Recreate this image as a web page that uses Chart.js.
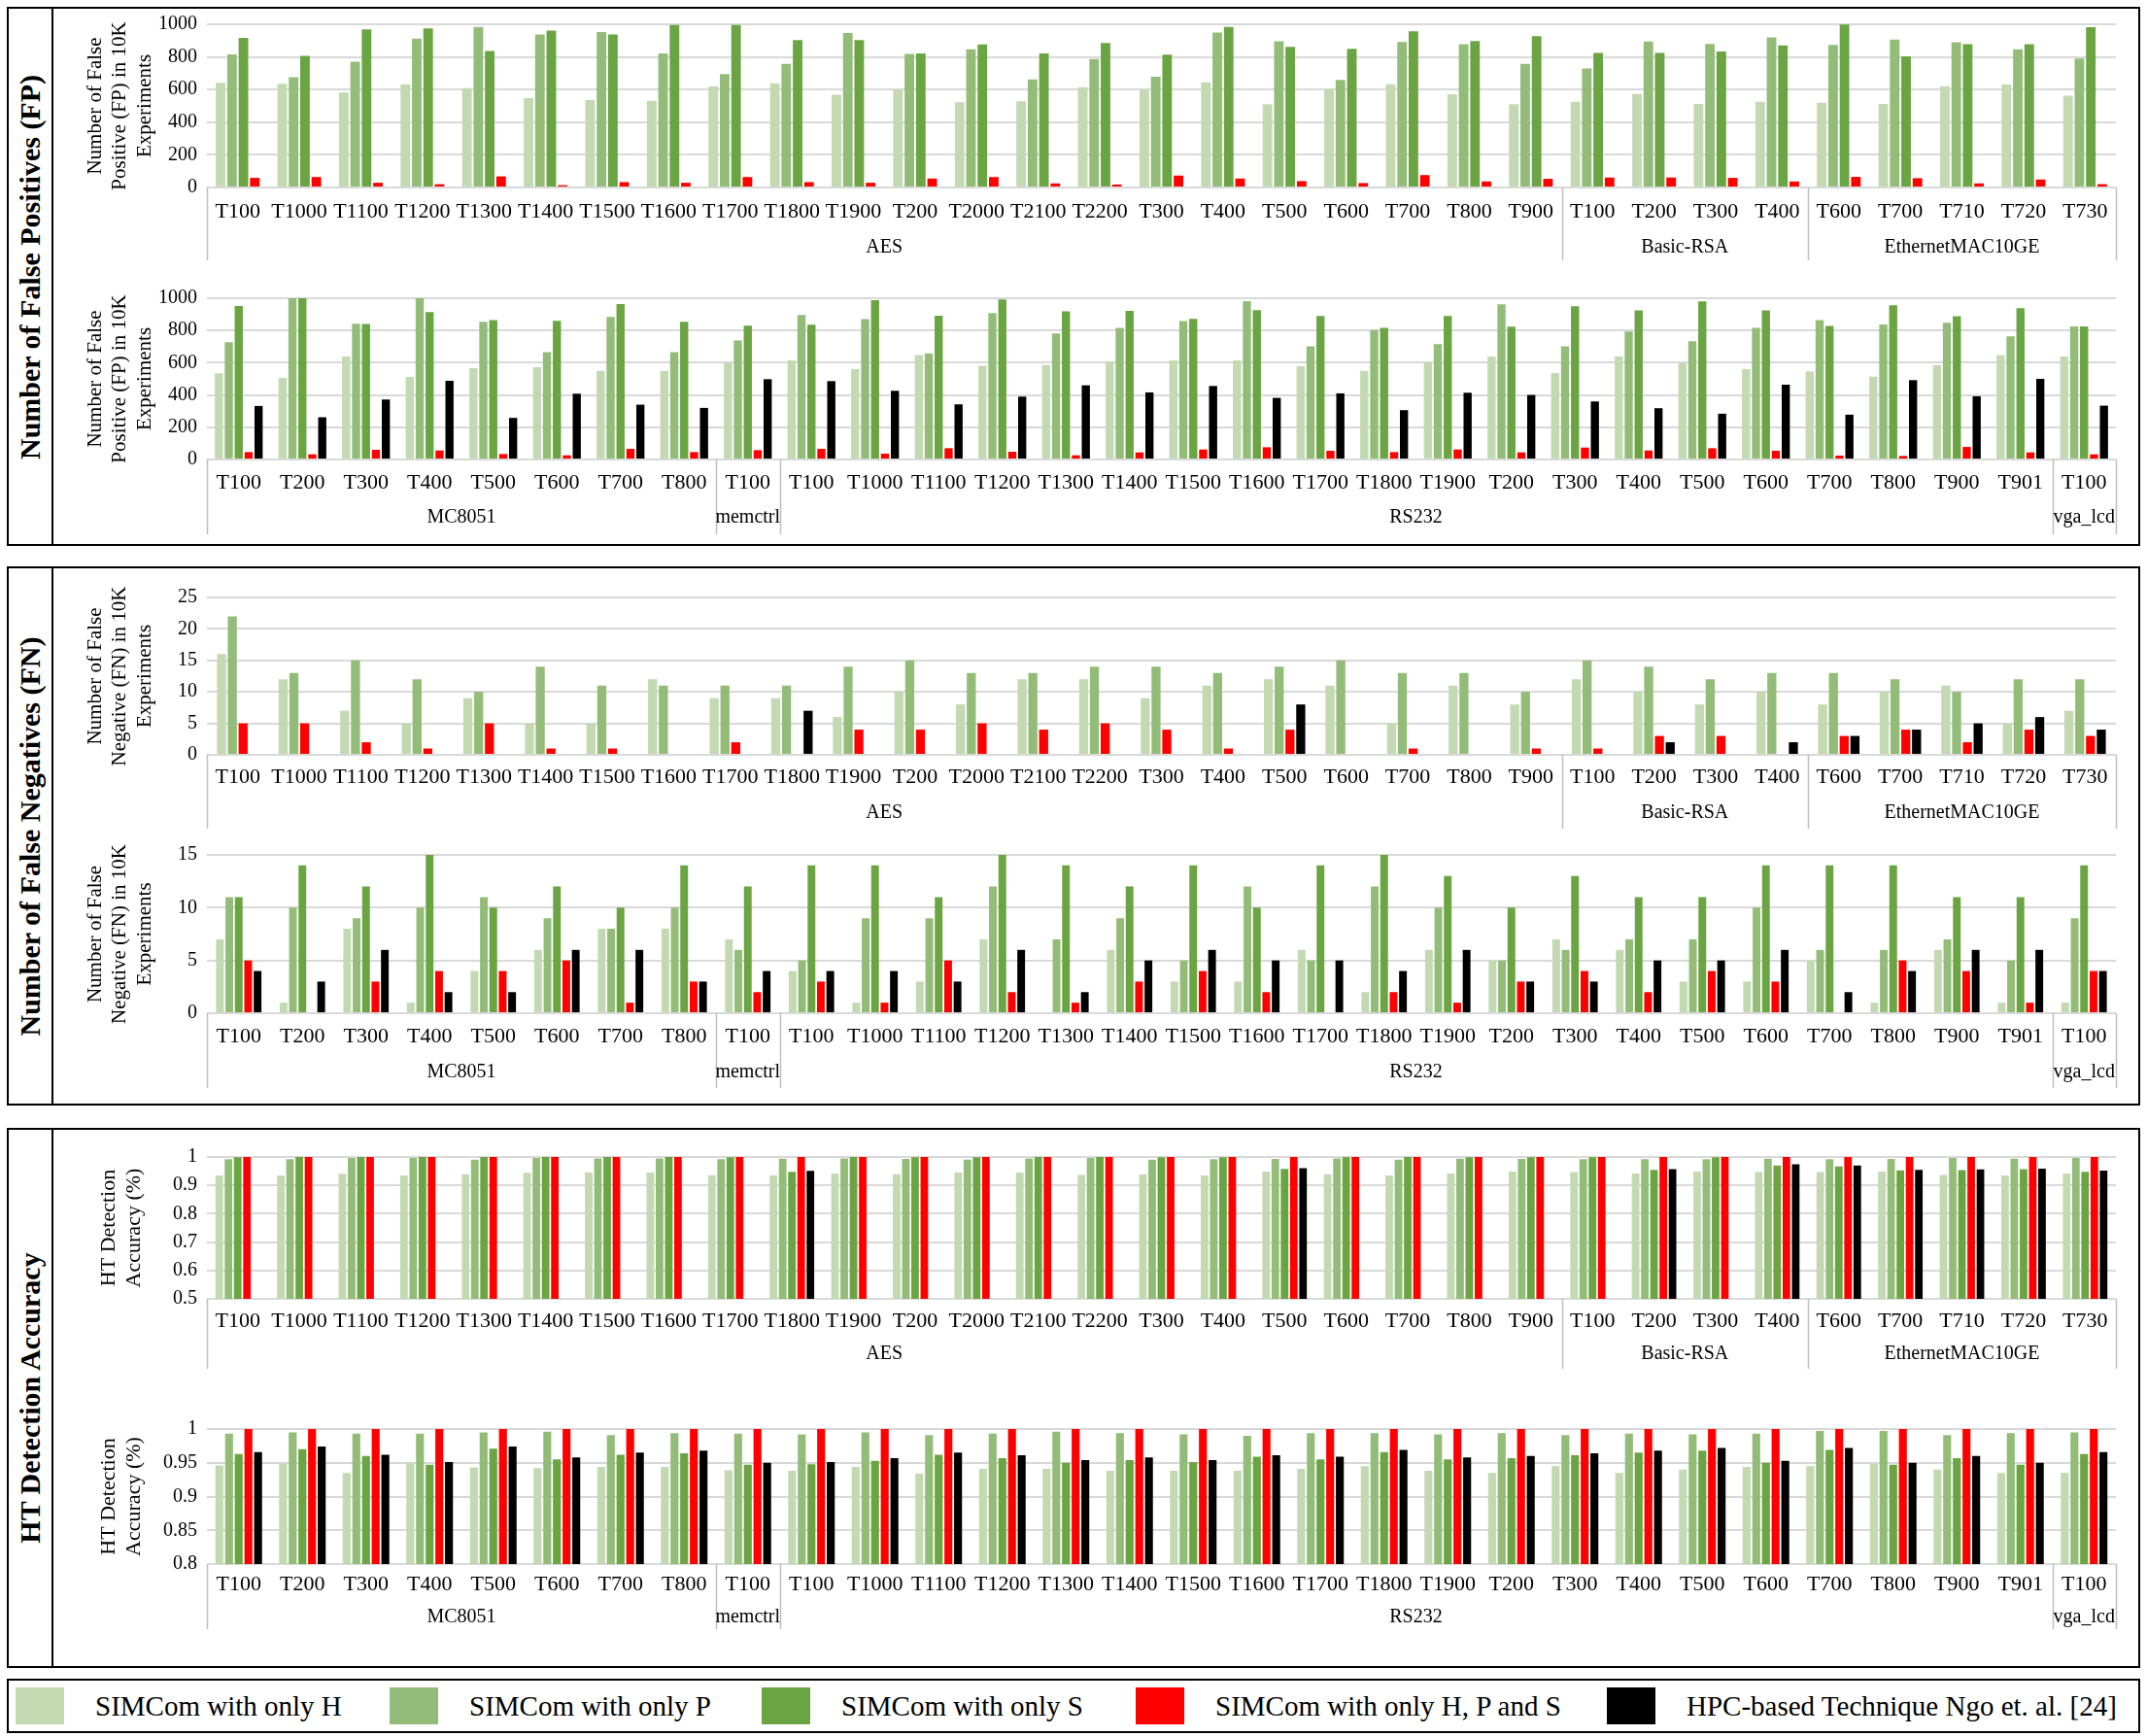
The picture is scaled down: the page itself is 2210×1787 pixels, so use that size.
<!DOCTYPE html>
<html><head><meta charset="utf-8">
<script src="https://cdn.jsdelivr.net/npm/chart.js@4.4.1/dist/chart.umd.min.js"></script>
<style>
html,body{margin:0;padding:0;background:#fff;}
#root{position:relative;width:2210px;height:1787px;background:#fff;overflow:hidden;font-family:"Liberation Serif","Times New Roman",serif;}
.panel{position:absolute;border:2px solid #000;box-sizing:border-box;}
.vdiv{position:absolute;width:2px;background:#000;}
.ptitle{position:absolute;transform:translate(-50%,-50%) rotate(-90deg);white-space:nowrap;font-weight:bold;font-size:30px;color:#000;}
canvas{position:absolute;}
.leg{position:absolute;top:1728px;left:7px;width:2196px;height:56px;border:2px solid #000;box-sizing:border-box;}
.sw{position:absolute;top:7px;height:38px;}
.lt{position:absolute;top:4px;font-size:29px;line-height:44px;color:#000;white-space:nowrap;}
</style></head>
<body><div id="root">
<div class="panel" style="left:7px;top:7px;width:2196px;height:555px;"></div>
<div class="panel" style="left:7px;top:583px;width:2196px;height:555px;"></div>
<div class="panel" style="left:7px;top:1161px;width:2196px;height:556px;"></div>
<div class="vdiv" style="left:53px;top:7px;height:555px;"></div>
<div class="vdiv" style="left:53px;top:583px;height:555px;"></div>
<div class="vdiv" style="left:53px;top:1161px;height:556px;"></div>
<div class="ptitle" style="left:31px;top:275px;">Number of False Positives (FP)</div>
<div class="ptitle" style="left:31px;top:861px;">Number of False Negatives (FN)</div>
<div class="ptitle" style="left:31px;top:1439px;">HT Detection Accuracy</div>
<canvas id="c1"></canvas><canvas id="c2"></canvas><canvas id="c3"></canvas>
<canvas id="c4"></canvas><canvas id="c5"></canvas><canvas id="c6"></canvas>
<div class="leg" id="leg"></div>
</div>
<script>
// ---------- categories ----------
const catTop = ['T100','T1000','T1100','T1200','T1300','T1400','T1500','T1600','T1700','T1800','T1900','T200','T2000','T2100','T2200','T300','T400','T500','T600','T700','T800','T900','T100','T200','T300','T400','T600','T700','T710','T720','T730'];
const groupTopNames = ['AES','Basic-RSA','EthernetMAC10GE'];
const groupTopSizes = [22,4,5];
const catBot = ['T100','T200','T300','T400','T500','T600','T700','T800','T100','T100','T1000','T1100','T1200','T1300','T1400','T1500','T1600','T1700','T1800','T1900','T200','T300','T400','T500','T600','T700','T800','T900','T901','T100'];
const groupBotNames = ['MC8051','memctrl','RS232','vga_lcd'];
const groupBotSizes = [8,1,20,1];
const seriesNames = ['SIMCom with only H','SIMCom with only P','SIMCom with only S','SIMCom with only H, P and S','HPC-based Technique Ngo et. al. [24]'];

// ---------- False positives ----------
const fpTopH = [641,635,582,633,609,547,535,531,619,639,568,600,523,529,615,598,645,510,604,633,571,510,525,573,512,525,520,512,620,631,563];
const fpTopP = [816,676,771,912,984,937,953,822,695,758,947,818,846,662,787,678,949,896,659,892,878,757,729,894,880,920,873,906,890,847,790];
const fpTopS = [916,807,969,975,836,961,937,996,996,904,904,822,877,822,885,814,984,861,849,957,898,927,824,825,833,871,998,804,878,878,982];
const fpTopHPS = [59,64,29,20,68,14,33,29,64,33,29,55,64,25,18,73,55,39,27,76,37,53,61,61,59,37,65,57,25,49,20];

const fpBotH = [534,506,638,512,566,572,550,550,598,614,560,648,582,586,606,614,614,578,550,604,638,536,638,598,560,546,514,586,648,638];
const fpBotP = [728,1000,842,1000,854,666,884,666,738,896,870,658,908,782,816,858,982,702,802,716,962,702,794,734,816,864,838,848,764,826];
const fpBotS = [952,1000,840,914,864,860,964,854,830,836,988,892,992,918,922,872,926,890,816,890,824,950,924,980,924,828,956,888,938,826];
const fpBotHPS = [46,32,60,56,34,26,66,46,58,66,36,70,48,26,44,62,76,54,46,62,44,74,56,70,54,24,22,78,44,32];
const fpBotHPC = [332,262,372,488,258,408,340,320,498,486,426,342,390,460,416,456,382,410,306,414,400,360,318,284,464,278,492,392,500,334];

// ---------- False negatives ----------
const fnTopH = [16,12,7,5,9,5,5,12,9,9,6,10,8,12,12,9,11,12,11,5,11,8,12,10,8,10,8,10,11,5,7];
const fnTopP = [22,13,15,12,10,14,11,11,11,11,14,15,13,13,14,14,13,14,15,13,13,10,15,14,12,13,13,12,10,12,12];
const fnTopHPS = [5,5,2,1,5,1,1,0,2,0,4,4,5,4,5,4,1,4,0,1,0,1,1,3,3,0,3,4,2,4,3];
const fnTopHPC = [0,0,0,0,0,0,0,0,0,7,0,0,0,0,0,0,0,8,0,0,0,0,0,2,0,2,3,4,5,6,4];

const fnBotH = [7,1,8,1,4,6,8,8,7,4,1,3,7,0,6,3,3,6,2,6,5,7,6,3,3,5,1,6,1,1];
const fnBotP = [11,10,9,10,11,9,8,10,6,5,9,9,12,7,9,5,12,5,12,10,5,6,7,7,10,6,6,7,5,9];
const fnBotS = [11,14,12,15,10,12,10,14,12,14,14,11,15,14,12,14,10,14,15,13,10,13,11,11,14,14,14,11,11,14];
const fnBotHPS = [5,0,3,4,4,5,1,3,2,3,1,5,2,1,3,4,2,0,2,1,3,4,2,4,3,0,5,4,1,4];
const fnBotHPC = [4,3,6,2,2,6,6,3,4,4,4,3,6,2,5,6,5,5,4,6,3,3,5,5,6,2,4,6,6,4];

// ---------- Accuracy ----------
const accTopH = [0.935,0.935,0.941,0.935,0.939,0.944,0.945,0.945,0.936,0.935,0.942,0.939,0.945,0.945,0.937,0.939,0.935,0.949,0.939,0.935,0.942,0.949,0.947,0.942,0.949,0.947,0.947,0.949,0.937,0.935,0.942];
const accTopP = [0.992,0.992,0.997,0.997,0.991,0.997,0.995,0.995,0.992,0.994,0.995,0.993,0.991,0.995,0.997,0.991,0.992,0.993,0.995,0.991,0.994,0.993,0.992,0.992,0.992,0.994,0.992,0.993,0.997,0.994,0.997];
const accTopS = [0.999,1,1,1,1,1,1,1,0.999,0.948,1,0.999,0.999,1,1,0.999,0.999,0.958,0.999,1,0.999,0.999,0.999,0.955,0.999,0.970,0.967,0.953,0.954,0.957,0.948];
const accTopHPS = [1,1,1,1,1,1,1,1,1,1,1,1,1,1,1,1,1,1,1,1,1,1,1,1,1,1,1,1,1,1,1];
const accTopHPC = [null,null,null,null,null,null,null,null,null,0.951,null,null,null,null,null,null,null,0.961,null,null,null,null,null,0.957,null,0.974,0.970,0.955,0.956,0.959,0.952];

const accBotH = [0.946,0.949,0.935,0.950,0.943,0.942,0.944,0.944,0.939,0.938,0.944,0.934,0.941,0.941,0.938,0.938,0.938,0.941,0.945,0.938,0.935,0.945,0.935,0.940,0.944,0.945,0.949,0.940,0.935,0.935];
const accBotP = [0.993,0.995,0.993,0.993,0.995,0.996,0.991,0.994,0.993,0.992,0.995,0.991,0.993,0.996,0.994,0.992,0.990,0.994,0.994,0.992,0.994,0.991,0.993,0.992,0.993,0.997,0.997,0.991,0.994,0.995];
const accBotS = [0.963,0.970,0.960,0.947,0.971,0.955,0.962,0.964,0.947,0.948,0.953,0.962,0.957,0.950,0.954,0.951,0.959,0.955,0.966,0.955,0.957,0.961,0.965,0.968,0.950,0.969,0.947,0.957,0.947,0.963];
const accBotHPS = [1,1,1,1,1,1,1,1,1,1,1,1,1,1,1,1,1,1,1,1,1,1,1,1,1,1,1,1,1,1];
const accBotHPC = [0.966,0.974,0.962,0.951,0.974,0.958,0.965,0.968,0.950,0.951,0.957,0.965,0.961,0.954,0.958,0.954,0.961,0.959,0.969,0.958,0.960,0.964,0.968,0.972,0.953,0.972,0.950,0.960,0.950,0.966];

// ---------- styling ----------
const COLORS = ['#c2d9b2','#93bc78','#6aa443','#ff0000','#000000'];
const FONT = 'Liberation Serif';

const groupPlugin = {
  id: 'groups',
  afterDraw(chart, args, opts) {
    const {ctx, chartArea} = chart;
    const xs = chart.scales.x;
    const n = chart.data.labels.length;
    const w = (xs.right - xs.left) / n;
    const bounds = [0];
    let acc = 0;
    opts.sizes.forEach(s => { acc += s; bounds.push(acc); });
    ctx.save();
    ctx.strokeStyle = '#bfbfbf';
    ctx.lineWidth = 1.5;
    bounds.forEach(b => {
      const x = Math.round(xs.left + b * w) + 0.5;
      ctx.beginPath();
      ctx.moveTo(x, chartArea.bottom);
      ctx.lineTo(x, chartArea.bottom + opts.divLen);
      ctx.stroke();
    });
    ctx.fillStyle = '#000';
    ctx.font = '20px "' + FONT + '"';
    ctx.textAlign = 'center';
    ctx.textBaseline = 'middle';
    opts.names.forEach((nm, i) => {
      const cx = xs.left + (bounds[i] + bounds[i + 1]) / 2 * w;
      ctx.fillText(nm, cx, chartArea.bottom + opts.labelOff);
    });
    ctx.restore();
  }
};

function ds(idx, data) {
  return {label: seriesNames[idx], data: data, backgroundColor: COLORS[idx], borderWidth: 0};
}

function fmt(v) { return String(Number(v.toFixed(2))); }

function makeChart(id, L, labels, datasets, yopt, title, groupNames, groupSizes) {
  const cv = document.getElementById(id);
  const left = 56, right = 2198;
  cv.width = right - left;
  cv.height = L.canvasBottom - L.canvasTop;
  cv.style.left = left + 'px';
  cv.style.top = L.canvasTop + 'px';
  cv.style.width = (right - left) + 'px';
  cv.style.height = (L.canvasBottom - L.canvasTop) + 'px';
  const yW = 213 - left;
  new Chart(cv, {
    type: 'bar',
    data: {labels: labels, datasets: datasets},
    options: {
      responsive: false, animation: false, devicePixelRatio: 1,
      layout: {padding: {top: L.chartTop - L.canvasTop, right: right - 2178, left: 0, bottom: 0}},
      datasets: {bar: {categoryPercentage: L.cat, barPercentage: L.bar}},
      plugins: {
        legend: {display: false}, tooltip: {enabled: false},
        groups: {names: groupNames, sizes: groupSizes, divLen: L.divLen, labelOff: L.groupOff}
      },
      scales: {
        x: {
          grid: {display: false, drawTicks: false}, border: {display: false},
          ticks: {autoSkip: false, maxRotation: 0, minRotation: 0, padding: L.tickPad, color: '#000', font: {family: FONT, size: 22}},
          afterFit: s => { s.height = L.canvasBottom - L.chartBottom; }
        },
        y: {
          min: yopt.min, max: yopt.max,
          grid: {color: '#d9d9d9', lineWidth: 2, drawTicks: false}, border: {display: false},
          ticks: {stepSize: yopt.step, padding: 10, color: '#000', font: {family: FONT, size: 20}, callback: v => fmt(v)},
          title: {display: true, text: title, color: '#000', font: {family: FONT, size: L.tSize, weight: L.tWeight, lineHeight: L.tLH}, padding: {top: L.tPad, bottom: 0}},
          afterFit: s => { s.width = yW; }
        }
      }
    },
    plugins: [groupPlugin]
  });
}

const fpTitle = ['Number of False', 'Positive (FP) in 10K', 'Experiments'];
const fnTitle = ['Number of False', 'Negative (FN) in 10K', 'Experiments'];
const accTitle = ['HT Detection', 'Accuracy (%)'];

makeChart('c1', {canvasTop: 3, chartTop: 24, chartBottom: 193, canvasBottom: 276, divLen: 75, groupOff: 62, tickPad: 12, cat: 0.74, bar: 0.84, tSize: 21, tWeight: 'normal', tLH: 1.2, tPad: 30},
  catTop, [ds(0, fpTopH), ds(1, fpTopP), ds(2, fpTopS), ds(3, fpTopHPS)], {min: 0, max: 1000, step: 200}, fpTitle, groupTopNames, groupTopSizes);
makeChart('c2', {canvasTop: 278, chartTop: 307, chartBottom: 473, canvasBottom: 556, divLen: 77, groupOff: 60, tickPad: 11, cat: 0.78, bar: 0.82, tSize: 21, tWeight: 'normal', tLH: 1.2, tPad: 30},
  catBot, [ds(0, fpBotH), ds(1, fpBotP), ds(2, fpBotS), ds(3, fpBotHPS), ds(4, fpBotHPC)], {min: 0, max: 1000, step: 200}, fpTitle, groupBotNames, groupBotSizes);
makeChart('c3', {canvasTop: 588, chartTop: 615, chartBottom: 777, canvasBottom: 860, divLen: 76, groupOff: 60, tickPad: 10, cat: 0.70, bar: 0.84, tSize: 21, tWeight: 'normal', tLH: 1.2, tPad: 30},
  catTop, [ds(0, fnTopH), ds(1, fnTopP), ds(3, fnTopHPS), ds(4, fnTopHPC)], {min: 0, max: 25, step: 5}, fnTitle, groupTopNames, groupTopSizes);
makeChart('c4', {canvasTop: 852, chartTop: 880, chartBottom: 1043, canvasBottom: 1126, divLen: 77, groupOff: 61, tickPad: 11, cat: 0.74, bar: 0.82, tSize: 21, tWeight: 'normal', tLH: 1.2, tPad: 30},
  catBot, [ds(0, fnBotH), ds(1, fnBotP), ds(2, fnBotS), ds(3, fnBotHPS), ds(4, fnBotHPC)], {min: 0, max: 15, step: 5}, fnTitle, groupBotNames, groupBotSizes);
makeChart('c5', {canvasTop: 1165, chartTop: 1191, chartBottom: 1337, canvasBottom: 1415, divLen: 72, groupOff: 57, tickPad: 10, cat: 0.75, bar: 0.82, tSize: 22, tWeight: 'normal', tLH: 1.15, tPad: 44},
  catTop, [ds(0, accTopH), ds(1, accTopP), ds(2, accTopS), ds(3, accTopHPS), ds(4, accTopHPC)], {min: 0.5, max: 1, step: 0.1}, accTitle, groupTopNames, groupTopSizes);
makeChart('c6', {canvasTop: 1440, chartTop: 1471, chartBottom: 1610, canvasBottom: 1690, divLen: 67, groupOff: 55, tickPad: 8, cat: 0.76, bar: 0.82, tSize: 22, tWeight: 'normal', tLH: 1.15, tPad: 44},
  catBot, [ds(0, accBotH), ds(1, accBotP), ds(2, accBotS), ds(3, accBotHPS), ds(4, accBotHPC)], {min: 0.8, max: 1, step: 0.05}, accTitle, groupBotNames, groupBotSizes);

// ---------- legend ----------
const legSwX = [7, 392, 775, 1160, 1645];
const legSwW = 50;
const leg = document.getElementById('leg');
seriesNames.forEach((nm, i) => {
  const sw = document.createElement('div');
  sw.className = 'sw';
  sw.style.left = legSwX[i] + 'px';
  sw.style.width = legSwW + 'px';
  sw.style.background = COLORS[i];
  leg.appendChild(sw);
  const t = document.createElement('div');
  t.className = 'lt';
  t.style.left = (legSwX[i] + legSwW + 32) + 'px';
  t.textContent = nm;
  leg.appendChild(t);
});
</script>
</body></html>
